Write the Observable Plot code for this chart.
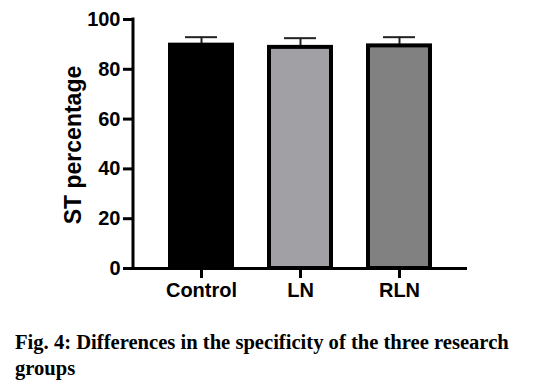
<!DOCTYPE html>
<html>
<head>
<meta charset="utf-8">
<script src="https://cdn.jsdelivr.net/npm/d3@7"></script>
<script src="https://cdn.jsdelivr.net/npm/@observablehq/plot@0.6"></script>
<style>
  body { margin: 0; background: #fff; width: 536px; height: 386px; overflow: hidden; }
  #chart svg { display: block; }
  #caption {
    font-family: "Liberation Serif", "Times New Roman", serif;
    font-weight: bold; font-size: 20.6px; line-height: 26px; color: #000;
    margin: 0; padding-left: 15px; padding-top: 19px; width: 521px;
  }
</style>
</head>
<body>
<div id="chart"></div>
<div id="caption">Fig. 4: Differences in the specificity of the three research groups</div>
<script>
const groups = ["Control", "LN", "RLN"];
const means = [89.7, 88.8, 89.4];
const upper = [92.9, 92.5, 92.9];
const fills = ["#000000", "#a1a1a5", "#818181"];
const yTicks = [0, 20, 40, 60, 80, 100];

const data = groups.map((g, i) => ({group: g, value: means[i], upper: upper[i], fill: fills[i]}));

const W = 536, H = 310;
const chart = Plot.plot({
  width: W, height: H,
  marginLeft: 133, marginRight: 69, marginTop: 19, marginBottom: 42,
  style: {fontFamily: "Liberation Sans, Arial, sans-serif", fontWeight: "bold", fontSize: "20px", color: "#000", background: "#fff"},
  x: {domain: groups, padding: 0.37, label: null},
  y: {domain: [0, 100], ticks: yTicks, label: null},
  marks: [
    Plot.ruleX(data, {x: "group", y1: "value", y2: "upper", stroke: "#222", strokeWidth: 2}),
    Plot.tickY(data, {x: "group", y: "upper", stroke: "#222", strokeWidth: 2, insetLeft: 15, insetRight: 15}),
    Plot.barY(data, {x: "group", y: "value", fill: d => d.fill, stroke: "#000", strokeWidth: 4}),
    Plot.ruleY([0], {stroke: "#000", strokeWidth: 3}),
    Plot.axisY({ticks: yTicks, tickSize: 10, tickPadding: 3, strokeWidth: 3, fontSize: 20, fontWeight: "bold", label: null}),
    Plot.axisX({tickSize: 10, tickPadding: 4, strokeWidth: 3, fontSize: 20, fontWeight: "bold", label: null}),
    Plot.text(["ST percentage"], {frameAnchor: "left", dx: -60, dy: 1, rotate: -90, fontSize: 23, fontWeight: "bold", textAnchor: "middle"})
  ]
});

// y axis line drawn from the chart's own y scale
const ys = chart.scale("y");
const y0 = ys.apply(0), y100 = ys.apply(100);
d3.select(chart).append("line")
  .attr("x1", 133).attr("x2", 133)
  .attr("y1", y100 - 1.5).attr("y2", y0 + 1.5)
  .attr("stroke", "#000").attr("stroke-width", 3);

document.getElementById("chart").appendChild(chart);
</script>
</body>
</html>
